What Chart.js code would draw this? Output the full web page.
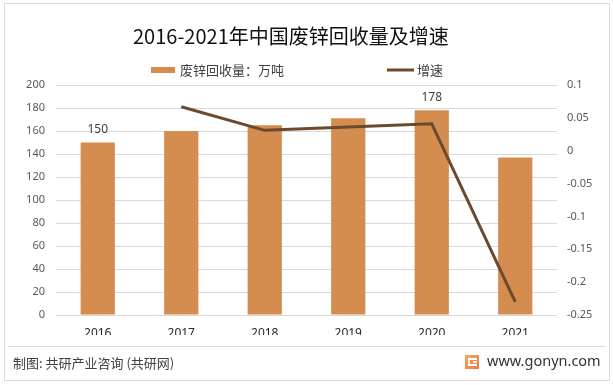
<!DOCTYPE html>
<html><head><meta charset="utf-8">
<script src="https://cdn.jsdelivr.net/npm/chart.js@4/dist/chart.umd.min.js"></script>
<style>html,body{margin:0;padding:0;background:#fff}#wrap{width:613px;height:385px;position:relative}</style>
</head><body><div id="wrap"><canvas id="c" width="613" height="385"></canvas></div>
<script>
const categories = ['2016','2017','2018','2019','2020','2021'];
const recycleVolume = [150, 160, 165, 171, 178, 137];
const growthRate = [null, 0.067, 0.031, 0.036, 0.041, -0.23];
const labeledBars = [0, 4];
const titleText = '2016-2021年中国废锌回收量及增速';
const barLabel = '废锌回收量：万吨';
const lineLabel = '增速';
const footerLeft = '制图: 共研产业咨询 (共研网)';
const footerRight = 'www.gonyn.com';

const BAR_COLOR = '#D48C4F';
const LINE_COLOR = '#6B4A2E';
const CJK = '"Noto Sans CJK SC", "Noto Sans", sans-serif';
const LAT = '"Noto Sans", "Noto Sans CJK SC", sans-serif';

const decor = {
  id: 'decor',
  beforeDraw(chart) {
    const ctx = chart.ctx;
    ctx.save();
    ctx.fillStyle = '#fff';
    ctx.fillRect(0, 0, chart.width, chart.height);
    ctx.strokeStyle = '#D9D9D9';
    ctx.lineWidth = 1;
    ctx.strokeRect(4.5, 3.5, 605, 377);
    ctx.restore();
  },
  afterDraw(chart) {
    const ctx = chart.ctx;
    ctx.save();
    // title
    ctx.fillStyle = '#111';
    ctx.font = '20px ' + CJK;
    ctx.textAlign = 'left';
    ctx.textBaseline = 'middle';
    ctx.fillText(titleText, 133, 36);
    // legend
    const ds = chart.data.datasets;
    ctx.fillStyle = ds[0].backgroundColor;
    ctx.fillRect(151, 67, 24, 6);
    ctx.fillStyle = '#404040';
    ctx.font = '13px ' + CJK;
    ctx.fillText(ds[0].label, 180, 70);
    ctx.strokeStyle = ds[1].borderColor;
    ctx.lineWidth = 3;
    ctx.beginPath(); ctx.moveTo(387, 70); ctx.lineTo(414, 70); ctx.stroke();
    ctx.fillText(ds[1].label, 417, 70);
    // data labels
    const meta = chart.getDatasetMeta(0);
    ctx.font = '12px ' + LAT;
    ctx.textAlign = 'center';
    ctx.fillStyle = '#404040';
    labeledBars.forEach(i => {
      const el = meta.data[i];
      ctx.fillText(String(ds[0].data[i]), el.x, el.y - 13);
    });
    // footer
    ctx.strokeStyle = '#D9D9D9';
    ctx.lineWidth = 1;
    ctx.beginPath(); ctx.moveTo(8, 346.5); ctx.lineTo(605, 346.5); ctx.stroke();
    ctx.textAlign = 'left';
    ctx.fillStyle = '#404040';
    ctx.font = '13px ' + CJK;
    ctx.fillText(footerLeft, 13, 363);
    // logo
    const g = ctx.createLinearGradient(465, 355, 479, 369);
    g.addColorStop(0, '#F7A65A'); g.addColorStop(1, '#F07A3C');
    ctx.fillStyle = g;
    ctx.fillRect(465, 355, 14, 14);
    ctx.fillStyle = '#fff';
    ctx.fillRect(468, 358, 9, 2);
    ctx.fillRect(468, 358, 2, 8);
    ctx.fillRect(468, 364, 9, 2);
    ctx.fillRect(473, 361, 4, 2);
    ctx.fillStyle = '#333';
    ctx.font = '14.5px ' + LAT;
    ctx.fillText(footerRight, 487, 362);
    ctx.restore();
  }
};

new Chart(document.getElementById('c'), {
  type: 'bar',
  data: {
    labels: categories,
    datasets: [
      {
        type: 'bar', label: barLabel, data: recycleVolume,
        backgroundColor: BAR_COLOR, yAxisID: 'y', order: 2,
        categoryPercentage: 1, barPercentage: 0.41
      },
      {
        type: 'line', label: lineLabel, data: growthRate,
        borderColor: LINE_COLOR, backgroundColor: LINE_COLOR, borderWidth: 3,
        pointRadius: 0, tension: 0, yAxisID: 'y1', order: 1
      }
    ]
  },
  options: {
    responsive: false,
    animation: false,
    layout: { padding: { left: 0, right: 0, top: 85, bottom: 50 } },
    plugins: { legend: { display: false }, title: { display: false }, tooltip: { enabled: false } },
    scales: {
      x: {
        offset: true,
        grid: { display: false, drawTicks: false },
        border: { display: false },
        ticks: { color: '#262626', font: { family: LAT, size: 12 }, padding: 11 },
        afterFit(s) { s.height = 20; }
      },
      y: {
        position: 'left', min: 0, max: 200,
        ticks: { stepSize: 20, color: '#595959', font: { family: LAT, size: 11 }, padding: 11 },
        grid: { color: '#D9D9D9', lineWidth: 1, drawTicks: false },
        border: { display: false },
        afterFit(s) { s.width = 56; }
      },
      y1: {
        position: 'right', min: -0.25, max: 0.1,
        ticks: { stepSize: 0.05, color: '#595959', font: { family: LAT, size: 11 }, padding: 10,
          callback: v => String(Math.round(v * 100) / 100) },
        grid: { display: false, drawTicks: false },
        border: { display: false },
        afterFit(s) { s.width = 56; }
      }
    }
  },
  plugins: [decor]
});
</script></body></html>
